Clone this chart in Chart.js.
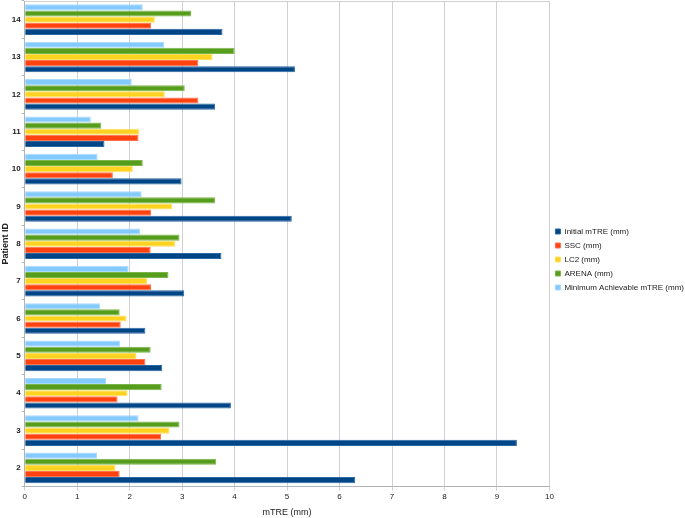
<!DOCTYPE html>
<html>
<head>
<meta charset="utf-8">
<script src="https://cdn.jsdelivr.net/npm/chart.js@4/dist/chart.umd.min.js"></script>
<style>
  html, body { margin: 0; padding: 0; background: #fff; }
  #wrap { width: 685px; height: 518px; }
</style>
</head>
<body>
<div id="wrap"><canvas id="chart" width="685" height="518"></canvas></div>
<script>
// patient ids, bottom to top
const patients = ["2", "3", "4", "5", "6", "7", "8", "9", "10", "11", "12", "13", "14"];

const initialMtre = [6.30, 9.38, 3.93, 2.62, 2.30, 3.04, 3.75, 5.09, 2.99, 1.52, 3.63, 5.15, 3.77];
const ssc         = [1.81, 2.60, 1.77, 2.30, 1.83, 2.41, 2.40, 2.41, 1.68, 2.17, 3.31, 3.31, 2.41];
const lc2         = [1.73, 2.76, 1.96, 2.13, 1.94, 2.33, 2.87, 2.81, 2.06, 2.18, 2.67, 3.58, 2.48];
const arena       = [3.65, 2.95, 2.61, 2.40, 1.81, 2.74, 2.95, 3.63, 2.25, 1.46, 3.05, 4.00, 3.17];
const minMtre     = [1.38, 2.17, 1.55, 1.82, 1.44, 1.98, 2.20, 2.23, 1.39, 1.26, 2.04, 2.66, 2.25];

const xTicks = [0, 1, 2, 3, 4, 5, 6, 7, 8, 9, 10];

const font = "'Liberation Sans', Arial, sans-serif";

function series(label, data, color, edge) {
  return {
    label: label,
    data: data,
    backgroundColor: color,
    borderColor: edge,
    borderWidth: 1,
    barPercentage: 1.0,
    categoryPercentage: 0.82
  };
}

// listed top-to-bottom inside each group; legend is reversed back
new Chart(document.getElementById("chart"), {
  type: "bar",
  data: {
    labels: patients,
    datasets: [
      series("Minimum Achievable mTRE (mm)", minMtre, "#83caff", "#a8d9ff"),
      series("ARENA (mm)", arena, "#579d1c", "#7cb54e"),
      series("LC2 (mm)", lc2, "#ffd320", "#ffe060"),
      series("SSC (mm)", ssc, "#ff420e", "#ff7050"),
      series("Initial mTRE (mm)", initialMtre, "#004586", "#2a68a3")
    ]
  },
  options: {
    indexAxis: "y",
    responsive: false,
    animation: false,
    layout: { padding: { top: 1, left: 0, right: -9, bottom: 0 } },
    scales: {
      x: {
        min: 0,
        max: 10,
        afterBuildTicks: axis => { axis.ticks = xTicks.map(v => ({ value: v })); },
        grid: { color: "#d0d0d0", lineWidth: 1, tickLength: 4, drawTicks: true },
        border: { color: "#b3b3b3" },
        ticks: { color: "#222", font: { family: font, size: 8 }, padding: 1 },
        title: {
          display: true,
          text: "mTRE (mm)",
          color: "#222",
          font: { family: font, size: 9 },
          padding: { top: 5, bottom: 0 }
        }
      },
      y: {
        reverse: true,
        afterFit: axis => { axis.paddingTop = 0; axis.paddingBottom = 0; },
        grid: { drawOnChartArea: false, drawTicks: true, tickLength: 3, color: "#b3b3b3" },
        border: { color: "#b3b3b3" },
        ticks: { color: "#222", font: { family: font, size: 8, weight: "bold" }, padding: 1 },
        title: {
          display: true,
          text: "Patient ID",
          color: "#222",
          font: { family: font, size: 9, weight: "bold" },
          padding: { top: 0, bottom: 0 }
        }
      }
    },
    plugins: {
      legend: {
        position: "right",
        align: "center",
        reverse: true,
        labels: {
          boxWidth: 5,
          boxHeight: 5,
          padding: 6,
          color: "#222",
          font: { family: font, size: 8 }
        }
      },
      tooltip: { enabled: false }
    }
  },
  plugins: [{
    id: "topFrame",
    afterDraw(chart) {
      const { ctx, chartArea } = chart;
      ctx.save();
      ctx.strokeStyle = "#d0d0d0";
      ctx.lineWidth = 1;
      ctx.beginPath();
      ctx.moveTo(chartArea.left, chartArea.top + 0.5);
      ctx.lineTo(chartArea.right, chartArea.top + 0.5);
      ctx.stroke();
      ctx.restore();
    }
  }]
});
</script>
</body>
</html>
